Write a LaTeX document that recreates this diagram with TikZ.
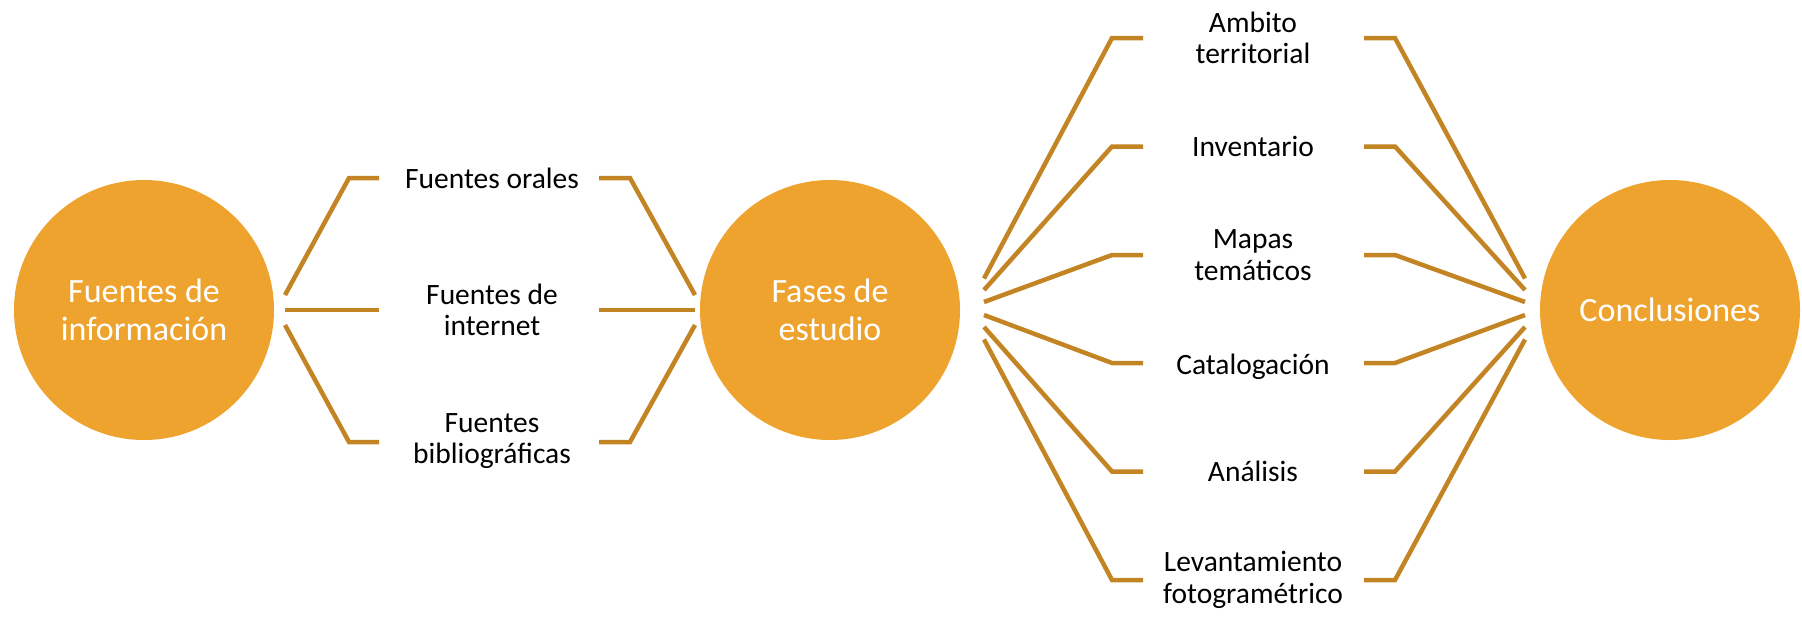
\documentclass[tikz,border=0pt]{standalone}
\usepackage{fontspec}
\setmainfont{Carlito}
\definecolor{circfill}{HTML}{EFA32F}
\definecolor{linecol}{HTML}{C38424}
\begin{document}
\begin{tikzpicture}[x=1pt,y=-1pt,
  bigcircle/.style={circle,fill=circfill,minimum size=260pt,inner sep=0pt,text=white,align=center,font=\fontsize{34}{38}\selectfont},
  itemtext/.style={align=center,inner sep=0pt,text=black,font=\fontsize{29.5}{31.5}\selectfont},
  conn/.style={draw=linecol,line width=4.5pt,line join=miter}]
\useasboundingbox (0,0) rectangle (1802,616);

% main circles
\node[bigcircle] (c1) at (144,310) {Fuentes de\\información};
\node[bigcircle] (c2) at (830,310) {Fases de\\estudio};
\node[bigcircle] (c3) at (1670,310) {Conclusiones};

% left group texts
\node[itemtext] (a1) at (492,178) {Fuentes orales};
\node[itemtext] (a2) at (492,310) {Fuentes de\\internet};
\node[itemtext] (a3) at (492,441) {Fuentes\\bibliográficas};

% right group texts
\node[itemtext] (b1) at (1253,38) {Ambito\\territorial};
\node[itemtext] (b2) at (1253,146.5) {Inventario};
\node[itemtext] (b3) at (1253,255) {Mapas\\temáticos};
\node[itemtext] (b4) at (1253,367) {Catalogación};
\node[itemtext] (b5) at (1253,471.5) {Análisis};
\node[itemtext] (b6) at (1253,580) {Levantamiento\\fotogramétrico};

% left group connectors
\foreach \i/\y/\f in {1/178/295, 3/442/325} {
  \coordinate (la\i) at (285,\f);
  \coordinate (ka\i) at (349,\y);
  \coordinate (ha\i) at (379,\y);
  \coordinate (ga\i) at (599,\y);
  \coordinate (ja\i) at (630,\y);
  \coordinate (ra\i) at (695,\f);
  \draw[conn] (la\i) -- (ka\i) -- (ha\i);
  \draw[conn] (ga\i) -- (ja\i) -- (ra\i);
}
\coordinate (la2) at (285,310);
\coordinate (ha2) at (379,310);
\coordinate (ga2) at (599,310);
\coordinate (ra2) at (695,310);
\draw[conn] (la2) -- (ha2);
\draw[conn] (ga2) -- (ra2);

% right group connectors
\foreach \i/\y/\f in {1/38/278.5, 2/146.5/290, 3/255/302, 4/363/315, 5/471.5/327, 6/580/339.5} {
  \coordinate (lb\i) at (984,\f);
  \coordinate (kb\i) at (1112,\y);
  \coordinate (hb\i) at (1143,\y);
  \coordinate (gb\i) at (1364,\y);
  \coordinate (jb\i) at (1395,\y);
  \coordinate (rb\i) at (1525,\f);
  \draw[conn] (lb\i) -- (kb\i) -- (hb\i);
  \draw[conn] (gb\i) -- (jb\i) -- (rb\i);
}
\end{tikzpicture}
\end{document}
